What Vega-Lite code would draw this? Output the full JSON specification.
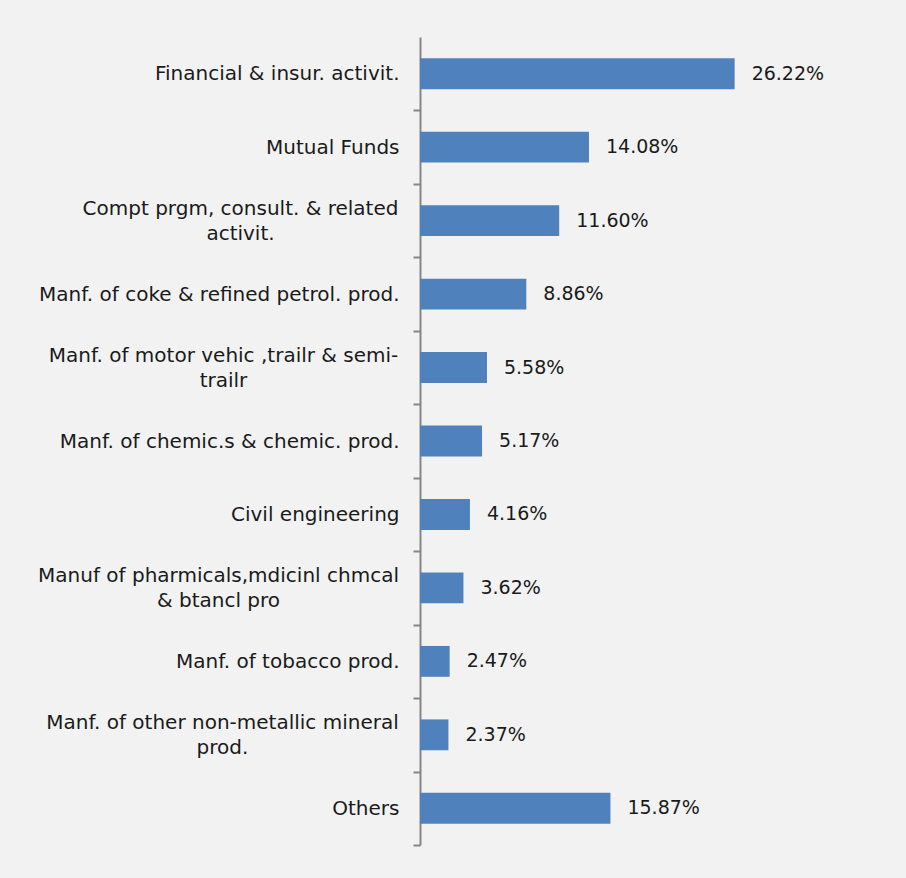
{
  "$schema": "https://vega.github.io/schema/vega-lite/v6.json",
  "autosize": "none",
  "width": 480,
  "height": 808,
  "padding": {"left": 420, "top": 37, "right": 6, "bottom": 33},
  "background": "#F2F2F2",
  "config": {
    "view": {"stroke": null},
    "font": "DejaVu Sans",
    "text": {"font": "DejaVu Sans"}
  },
  "data": {
    "values": [
      {"sector": "Financial & insur. activit.", "share": 0.2622},
      {"sector": "Mutual Funds", "share": 0.1408},
      {"sector": "Compt prgm, consult. & related|activit.", "share": 0.1160},
      {"sector": "Manf. of coke & refined petrol. prod.", "share": 0.0886},
      {"sector": "Manf. of motor vehic ,trailr & semi-|trailr", "share": 0.0558},
      {"sector": "Manf. of chemic.s & chemic. prod.", "share": 0.0517},
      {"sector": "Civil engineering", "share": 0.0416},
      {"sector": "Manuf of pharmicals,mdicinl chmcal|& btancl pro", "share": 0.0362},
      {"sector": "Manf. of tobacco prod.", "share": 0.0247},
      {"sector": "Manf. of other non-metallic mineral|prod.", "share": 0.0237},
      {"sector": "Others", "share": 0.1587}
    ]
  },
  "encoding": {
    "y": {
      "field": "sector",
      "type": "nominal",
      "sort": null,
      "scale": {"paddingInner": 0.58, "paddingOuter": 0.29},
      "axis": {
        "title": null,
        "labelExpr": "split(datum.value, '|')",
        "labelFont": "DejaVu Sans",
        "labelFontSize": 20,
        "labelColor": "#1a1a1a",
        "labelLineHeight": 25,
        "labelAlign": {"condition": {"test": "indexof(datum.value, '|') >= 0", "value": "center"}, "value": "right"},
        "labelPadding": {
          "condition": [
            {"test": "indexof(datum.value, 'Compt') == 0", "value": 173},
            {"test": "indexof(datum.value, 'Manf. of motor') == 0", "value": 190},
            {"test": "indexof(datum.value, 'Manuf of pharm') == 0", "value": 195},
            {"test": "indexof(datum.value, 'Manf. of other') == 0", "value": 191}
          ],
          "value": 14
        },
        "labelLimit": 0,
        "labelOffset": {"condition": {"test": "indexof(datum.value, '|') >= 0", "value": -49.2}, "value": -36.727},
        "tickOffset": 36.727,
        "domainColor": "#868686",
        "domainWidth": 2,
        "tickColor": "#868686",
        "tickWidth": 2,
        "tickSize": 7,
        "grid": false
      }
    },
    "x": {
      "field": "share",
      "type": "quantitative",
      "scale": {"domain": [0, 0.4], "nice": false},
      "axis": null
    }
  },
  "layer": [
    {"mark": {"type": "bar", "color": "#4F81BD"}},
    {
      "mark": {"type": "text", "align": "left", "baseline": "middle", "dx": 17, "fontSize": 19, "color": "#1a1a1a", "font": "DejaVu Sans"},
      "encoding": {"text": {"field": "share", "type": "quantitative", "format": ".2%"}}
    }
  ]
}
